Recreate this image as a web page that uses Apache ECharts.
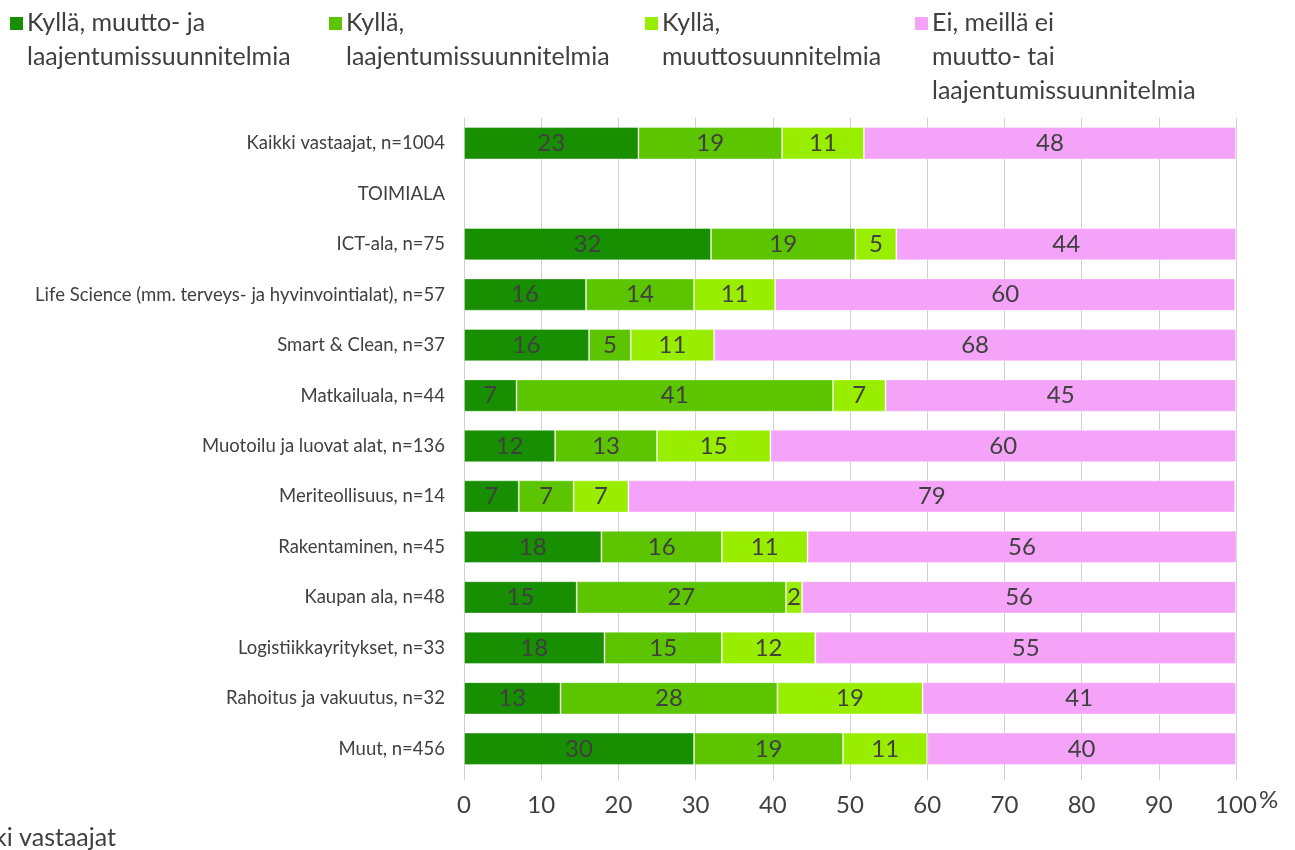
<!DOCTYPE html>
<html><head><meta charset="utf-8">
<script src="https://cdn.jsdelivr.net/npm/echarts@6/dist/echarts.min.js"></script>
<style>html,body{margin:0;padding:0;background:#fff}#c{width:1295px;height:850px}</style>
</head><body><div id="c"></div>
<script>
const categories = ['Kaikki vastaajat, n=1004','TOIMIALA','ICT-ala, n=75','Life Science (mm. terveys- ja hyvinvointialat), n=57','Smart & Clean, n=37','Matkailuala, n=44','Muotoilu ja luovat alat, n=136','Meriteollisuus, n=14','Rakentaminen, n=45','Kaupan ala, n=48','Logistiikkayritykset, n=33','Rahoitus ja vakuutus, n=32','Muut, n=456'];
const seriesNames = ['Kyllä, muutto- ja\nlaajentumissuunnitelmia','Kyllä,\nlaajentumissuunnitelmia','Kyllä,\nmuuttosuunnitelmia','Ei, meillä ei\nmuutto- tai\nlaajentumissuunnitelmia'];
const s1 = [22.6, null, 32.0, 15.8, 16.2, 6.8, 11.8, 7.1, 17.8, 14.6, 18.2, 12.5, 29.8];
const s2 = [18.6, null, 18.7, 14.0, 5.4, 41.0, 13.2, 7.1, 15.6, 27.1, 15.2, 28.1, 19.3];
const s3 = [10.6, null, 5.3, 10.5, 10.8, 6.8, 14.7, 7.1, 11.1, 2.1, 12.1, 18.8, 10.9];
const s4 = [48.2, null, 44.0, 59.6, 67.6, 45.4, 60.3, 78.6, 55.6, 56.2, 54.5, 40.6, 40.0];
const xTicks = [0,10,20,30,40,50,60,70,80,90,100];
const colors = ['#188F00','#5CC500','#99EE00','#F4A3F9'];
const FONT = 'Lato';
const TXT = '#404040';
const values = [s1,s2,s3,s4];
const legendIconX = [10, 329, 645, 915];

const legendGraphics = [];
seriesNames.forEach((n,i)=>{
  legendGraphics.push({type:'rect', shape:{x:legendIconX[i], y:17, width:13, height:13}, style:{fill:colors[i]}});
  legendGraphics.push({type:'text', x:legendIconX[i]+17, y:6,
    style:{text:n, font:'25px '+FONT, fill:TXT, lineHeight:34, verticalAlign:'top', align:'left'}});
});

const chart = echarts.init(document.getElementById('c'), null, {renderer:'canvas'});
chart.setOption({
  animation:false,
  grid:{left:464, right:59, top:118, height:656, containLabel:false},
  xAxis:{type:'value', min:0, max:100, interval:10,
    axisLine:{show:false},
    axisTick:{show:true, length:6, lineStyle:{color:'#d0d0d0'}},
    splitLine:{show:true, lineStyle:{color:'#d0d0d0', width:1}},
    axisLabel:{fontFamily:FONT, fontSize:24, color:TXT, margin:19,
      formatter:v=> xTicks.includes(v) ? String(v) : ''}
  },
  yAxis:{type:'category', data:categories, inverse:true,
    axisLine:{show:false}, axisTick:{show:false},
    axisLabel:{fontFamily:FONT, fontSize:18.5, color:TXT, margin:19}
  },
  graphic: legendGraphics.concat([
    {type:'text', x:1259, y:800, style:{text:'%', font:'24px '+FONT, fill:TXT, verticalAlign:'middle', align:'left'}},
    {type:'text', x:116, y:838, style:{text:'Kaikki vastaajat', font:'25px '+FONT, fill:TXT, verticalAlign:'middle', align:'right'}}
  ]),
  series: values.map((d,i)=>({
    name:seriesNames[i], type:'bar', stack:'t', data:d,
    barCategoryGap:'36%',
    itemStyle:{color:colors[i], borderColor:'rgba(255,255,255,0.35)', borderWidth:1},
    label:{show:true, position:'inside', fontFamily:FONT, fontSize:24, color:TXT,
      formatter:p=> p.value==null ? '' : String(Math.round(p.value))}
  }))
});
</script></body></html>
